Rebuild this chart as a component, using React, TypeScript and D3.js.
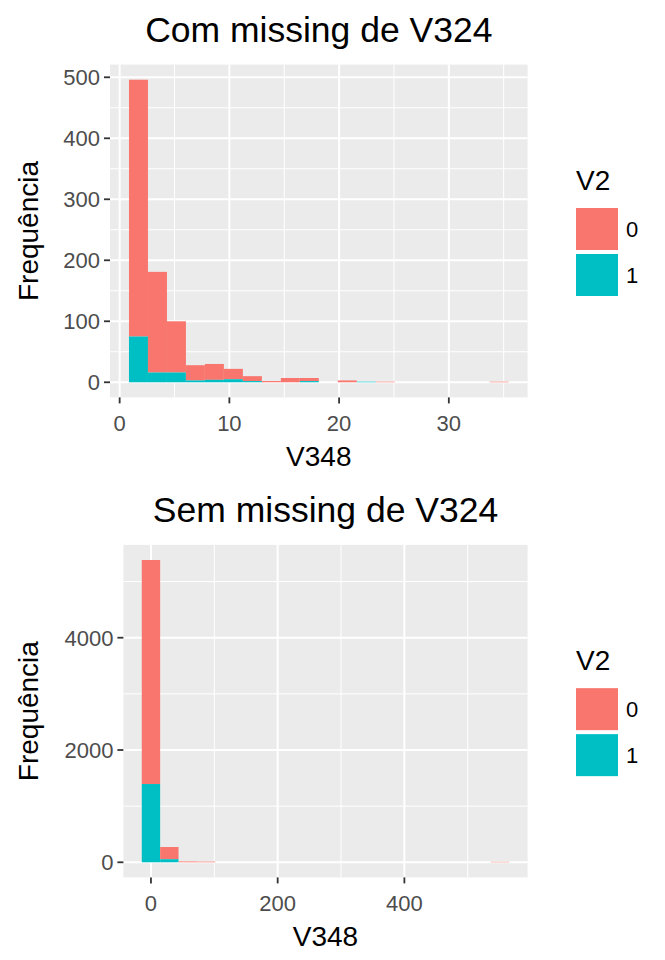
import React from "react";
import * as d3 from "d3";

// ---- data ----
// Panel 1: "Com missing de V324" – 20 bins
const topBinLower = [0.85, 2.58, 4.31, 6.04, 7.77, 9.5, 11.23, 12.96, 14.69, 16.42, 18.15, 19.88, 21.61, 23.34, 25.07, 26.8, 28.53, 30.26, 31.99, 33.72];
const topBinWidth = 1.73;
const topTotal = [496, 181, 100, 28, 30, 22, 10, 2, 7, 7, 0, 3, 1, 1, 0, 0, 0, 0, 0, 1];
const topGroup1 = [75, 16, 16, 3, 4, 5, 2, 0, 0, 2, 0, 0, 1, 0, 0, 0, 0, 0, 0, 0];
const topXTicks = [0, 10, 20, 30];
const topXMinor = [5, 15, 25, 35];
const topYTicks = [0, 100, 200, 300, 400, 500];
const topYMinor = [50, 150, 250, 350, 450];

// Panel 2: "Sem missing de V324" – 20 bins
const botBinLower = [-14.5, 14.5, 43.5, 72.5, 101.5, 130.5, 159.5, 188.5, 217.5, 246.5, 275.5, 304.5, 333.5, 362.5, 391.5, 420.5, 449.5, 478.5, 507.5, 536.5];
const botBinWidth = 29;
const botTotal = [5384, 272, 15, 12, 0, 0, 0, 0, 0, 0, 0, 0, 0, 0, 0, 0, 0, 0, 0, 8];
const botGroup1 = [1394, 55, 0, 0, 0, 0, 0, 0, 0, 0, 0, 0, 0, 0, 0, 0, 0, 0, 0, 0];
const botXTicks = [0, 200, 400];
const botXMinor = [100, 300, 500];
const botYTicks = [0, 2000, 4000];
const botYMinor = [1000, 3000, 5000];

const groups = ["0", "1"];
const colors = ["#F8766D", "#00BFC4"];

const FONT = "'Liberation Sans', Arial, Helvetica, sans-serif";

type PanelProps = {
  title: string;
  binLower: number[];
  binWidth: number;
  total: number[];
  group1: number[];
  xTicks: number[];
  xMinor: number[];
  yTicks: number[];
  yMinor: number[];
  left: number;
  right: number;
  top: number;
  bottom: number;
  titleY: number;
};

function Panel(p: PanelProps) {
  const xmin = p.binLower[0];
  const xmax = p.binLower[p.binLower.length - 1] + p.binWidth;
  const xpad = (xmax - xmin) * 0.05;
  const x = d3.scaleLinear().domain([xmin - xpad, xmax + xpad]).range([p.left, p.right]);
  const ymax = d3.max(p.total) as number;
  const y = d3.scaleLinear().domain([-ymax * 0.05, ymax * 1.05]).range([p.bottom, p.top]);
  const cx = (p.left + p.right) / 2;
  const cy = (p.top + p.bottom) / 2;
  const tickLen = 6;
  return (
    <g>
      <text x={cx} y={p.titleY} textAnchor="middle" fontSize={35.5} fill="#000" fontFamily={FONT}>
        {p.title}
      </text>
      <rect x={p.left} y={p.top} width={p.right - p.left} height={p.bottom - p.top} fill="#EBEBEB" />
      {p.xMinor.map((v) => (
        <line key={"xm" + v} x1={x(v)} x2={x(v)} y1={p.top} y2={p.bottom} stroke="#fff" strokeWidth={1} />
      ))}
      {p.yMinor.map((v) => (
        <line key={"ym" + v} x1={p.left} x2={p.right} y1={y(v)} y2={y(v)} stroke="#fff" strokeWidth={1} />
      ))}
      {p.xTicks.map((v) => (
        <line key={"xM" + v} x1={x(v)} x2={x(v)} y1={p.top} y2={p.bottom} stroke="#fff" strokeWidth={2} />
      ))}
      {p.yTicks.map((v) => (
        <line key={"yM" + v} x1={p.left} x2={p.right} y1={y(v)} y2={y(v)} stroke="#fff" strokeWidth={2} />
      ))}
      {p.binLower.map((b, i) => {
        const g1 = p.group1[i];
        const tot = p.total[i];
        const x0 = x(b);
        const x1 = x(b + p.binWidth);
        return (
          <g key={"bin" + i}>
            {tot - g1 > 0 && (
              <rect x={x0} y={y(tot)} width={x1 - x0} height={y(g1) - y(tot)} fill={colors[0]} />
            )}
            {g1 > 0 && <rect x={x0} y={y(g1)} width={x1 - x0} height={y(0) - y(g1)} fill={colors[1]} />}
          </g>
        );
      })}
      {/* axes ticks */}
      {p.xTicks.map((v) => (
        <g key={"xt" + v}>
          <line x1={x(v)} x2={x(v)} y1={p.bottom} y2={p.bottom + tickLen} stroke="#333" strokeWidth={1.8} />
          <text x={x(v)} y={p.bottom + 33.5} textAnchor="middle" fontSize={22} fill="#4D4D4D" fontFamily={FONT}>
            {v}
          </text>
        </g>
      ))}
      {p.yTicks.map((v) => (
        <g key={"yt" + v}>
          <line x1={p.left - tickLen} x2={p.left} y1={y(v)} y2={y(v)} stroke="#333" strokeWidth={1.8} />
          <text x={p.left - tickLen - 4} y={y(v) + 8} textAnchor="end" fontSize={22} fill="#4D4D4D" fontFamily={FONT}>
            {v}
          </text>
        </g>
      ))}
      <text x={cx} y={p.bottom + 68.5} textAnchor="middle" fontSize={28} fill="#000" fontFamily={FONT}>
        V348
      </text>
      <text
        transform={`translate(38,${cy}) rotate(-90)`}
        textAnchor="middle"
        fontSize={28}
        fill="#000"
        fontFamily={FONT}
      >
        Frequência
      </text>
      {/* legend */}
      <text x={576} y={cy - 41} fontSize={28} fill="#000" fontFamily={FONT}>
        V2
      </text>
      {groups.map((g, i) => (
        <g key={"lg" + g}>
          <rect x={576} y={cy - 23 + i * 46} width={42} height={42} fill={colors[i]} />
          <text x={626} y={cy - 23 + i * 46 + 29} fontSize={22} fill="#000" fontFamily={FONT}>
            {g}
          </text>
        </g>
      ))}
    </g>
  );
}

export default function App() {
  return (
    <div style={{ position: "absolute", left: 0, top: 0 }}>
      <svg width={665} height={960} style={{ display: "block", background: "#fff" }}>
        <rect x={0} y={0} width={665} height={960} fill="#fff" />
        <Panel
          title="Com missing de V324"
          binLower={topBinLower}
          binWidth={topBinWidth}
          total={topTotal}
          group1={topGroup1}
          xTicks={topXTicks}
          xMinor={topXMinor}
          yTicks={topYTicks}
          yMinor={topYMinor}
          left={110}
          right={527.6}
          top={64.6}
          bottom={397.4}
          titleY={42}
        />
        <Panel
          title="Sem missing de V324"
          binLower={botBinLower}
          binWidth={botBinWidth}
          total={botTotal}
          group1={botGroup1}
          xTicks={botXTicks}
          xMinor={botXMinor}
          yTicks={botYTicks}
          yMinor={botYMinor}
          left={123.4}
          right={527.6}
          top={544.9}
          bottom={877.4}
          titleY={522}
        />
      </svg>
    </div>
  );
}
